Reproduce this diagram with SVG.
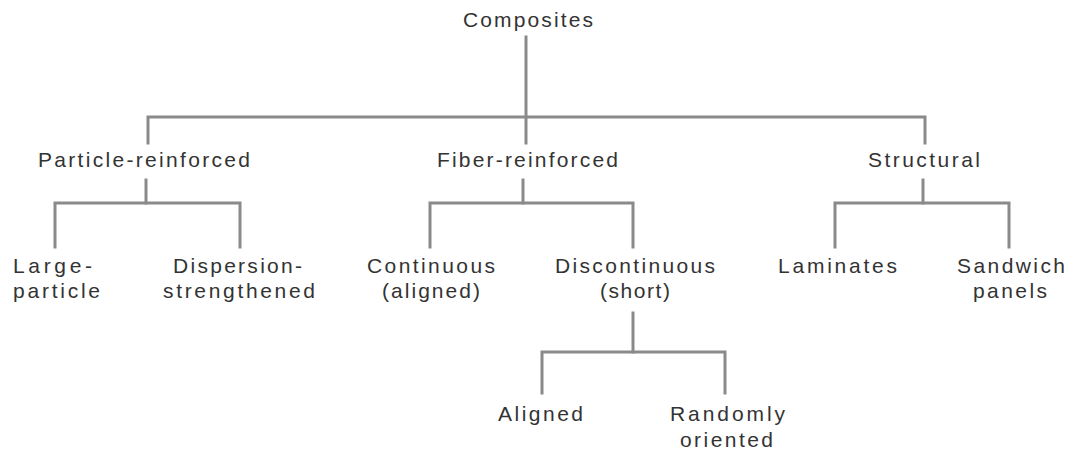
<svg xmlns="http://www.w3.org/2000/svg" width="1076" height="456" viewBox="0 0 1076 456">
<style>
.t{font-family:"Liberation Sans",Arial,sans-serif;font-size:21px;fill:#333}
.c{fill:none;stroke:#8a8a8a;stroke-width:3;stroke-linecap:square}
</style>
<rect width="1076" height="456" fill="#fff"/>
<g id="connectors">
<path class="c" d="M526 37 V143"/>
<path class="c" d="M148 143 V117 H925 V143"/>
<path class="c" d="M146 180 V203"/>
<path class="c" d="M55 247 V203 H240 V247"/>
<path class="c" d="M523 180 V203"/>
<path class="c" d="M430 247 V203 H633 V247"/>
<path class="c" d="M923 180 V203"/>
<path class="c" d="M835 247 V203 H1009 V247"/>
<path class="c" d="M633 313 V352"/>
<path class="c" d="M542 393 V352 H725 V393"/>
</g>
<g id="n-composites"><text class="t" x="463" y="27" textLength="130">Composites</text></g>
<g id="n-particle"><text class="t" x="38" y="167" textLength="212">Particle-reinforced</text></g>
<g id="n-fiber"><text class="t" x="437" y="167" textLength="181">Fiber-reinforced</text></g>
<g id="n-structural"><text class="t" x="868" y="167" textLength="112">Structural</text></g>
<g id="n-large"><text class="t" x="13" y="273" textLength="79">Large-</text><text class="t" x="13" y="298" textLength="87">particle</text></g>
<g id="n-dispersion"><text class="t" x="173" y="273" textLength="129">Dispersion-</text><text class="t" x="163" y="298" textLength="152">strengthened</text></g>
<g id="n-continuous"><text class="t" x="367" y="273" textLength="128">Continuous</text><text class="t" x="382" y="298" textLength="98">(aligned)</text></g>
<g id="n-discontinuous"><text class="t" x="555" y="273" textLength="160">Discontinuous</text><text class="t" x="600" y="298" textLength="70">(short)</text></g>
<g id="n-laminates"><text class="t" x="778" y="273" textLength="119">Laminates</text></g>
<g id="n-sandwich"><text class="t" x="957" y="273" textLength="108">Sandwich</text><text class="t" x="973" y="298" textLength="74">panels</text></g>
<g id="n-aligned"><text class="t" x="498" y="421" textLength="85">Aligned</text></g>
<g id="n-random"><text class="t" x="670" y="421" textLength="115">Randomly</text><text class="t" x="680" y="447" textLength="93">oriented</text></g>
</svg>
